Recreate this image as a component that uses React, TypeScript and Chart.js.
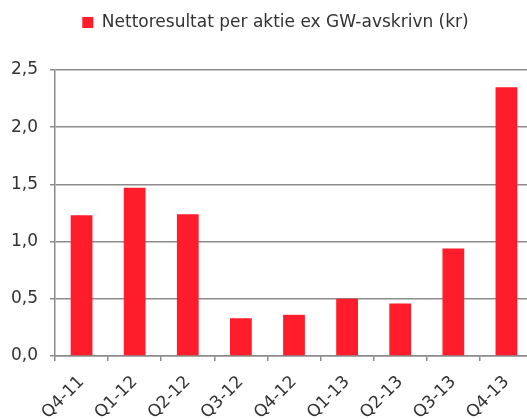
import React, { useEffect, useRef } from "react";
import { Chart, registerables } from "chart.js";

Chart.register(...registerables);

const categories = ["Q4-11", "Q1-12", "Q2-12", "Q3-12", "Q4-12", "Q1-13", "Q2-13", "Q3-13", "Q4-13"];
const values = [1.23, 1.47, 1.24, 0.33, 0.36, 0.5, 0.46, 0.94, 2.35];
const seriesLabel = "Nettoresultat per aktie ex GW-avskrivn (kr)";
const yTicks = [0, 0.5, 1.0, 1.5, 2.0, 2.5];

const RED = "#FF1C2B";
const GRID = "#8c8c8c";
const TEXT = "#333333";
const FONT = "'DejaVu Sans', sans-serif";

const legendSpacer = {
  id: "legendSpacer",
  afterInit(chart: any) {
    const l = chart.legend;
    if (!l) return;
    const f = l.fit;
    l.fit = function () {
      f.call(this);
      this.height += 29;
    };
  },
  afterLayout(chart: any) {
    const l = chart.legend;
    if (!l) return;
    l.left += 9;
    l.right += 9;
  },
};

export default function App() {
  const ref = useRef<HTMLCanvasElement | null>(null);
  useEffect(() => {
    if (!ref.current) return;
    const chart = new Chart(ref.current, {
      type: "bar",
      data: {
        labels: categories,
        datasets: [
          {
            label: seriesLabel,
            data: values,
            backgroundColor: RED,
            borderWidth: 0,
            categoryPercentage: 1,
            barPercentage: 0.41,
          },
        ],
      },
      plugins: [legendSpacer],
      options: {
        responsive: false,
        animation: false,
        maintainAspectRatio: false,
        layout: { padding: { left: 0, right: 0, top: 6, bottom: 0 } },
        plugins: {
          tooltip: { enabled: false },
          legend: {
            display: true,
            position: "top",
            labels: {
              color: TEXT,
              boxWidth: 11,
              boxHeight: 11,
              padding: 8,
              font: { family: FONT, size: 17 },
            },
          },
        },
        scales: {
          x: {
            offset: true,
            grid: {
              display: true,
              drawOnChartArea: false,
              drawTicks: true,
              tickLength: 5,
              color: GRID,
              lineWidth: 1.5,
              offset: true,
            },
            border: { display: true, color: GRID, width: 1.5 },
            ticks: {
              color: TEXT,
              font: { family: FONT, size: 17 },
              maxRotation: 45,
              minRotation: 45,
              padding: 11,
            },
            afterFit: (axis: any) => {
              axis.height = 63;
            },
          },
          y: {
            min: 0,
            max: 2.5,
            afterBuildTicks: (axis: any) => {
              axis.ticks = yTicks.map((v) => ({ value: v }));
            },
            grid: {
              display: true,
              drawOnChartArea: true,
              drawTicks: true,
              tickLength: 5,
              color: GRID,
              lineWidth: 1.5,
            },
            border: { display: true, color: GRID, width: 1.5 },
            ticks: {
              color: TEXT,
              font: { family: FONT, size: 17 },
              padding: 12,
              callback: (v: any) => Number(v).toFixed(1).replace(".", ","),
            },
            afterFit: (axis: any) => {
              axis.width = 55;
            },
          },
        },
      },
    });
    return () => chart.destroy();
  }, []);
  return (
    <div style={{ position: "fixed", left: 0, top: 0, width: 527, height: 419, overflow: "hidden", background: "#fff" }}>
      <canvas ref={ref} width={533} height={419} style={{ display: "block" }} />
    </div>
  );
}
